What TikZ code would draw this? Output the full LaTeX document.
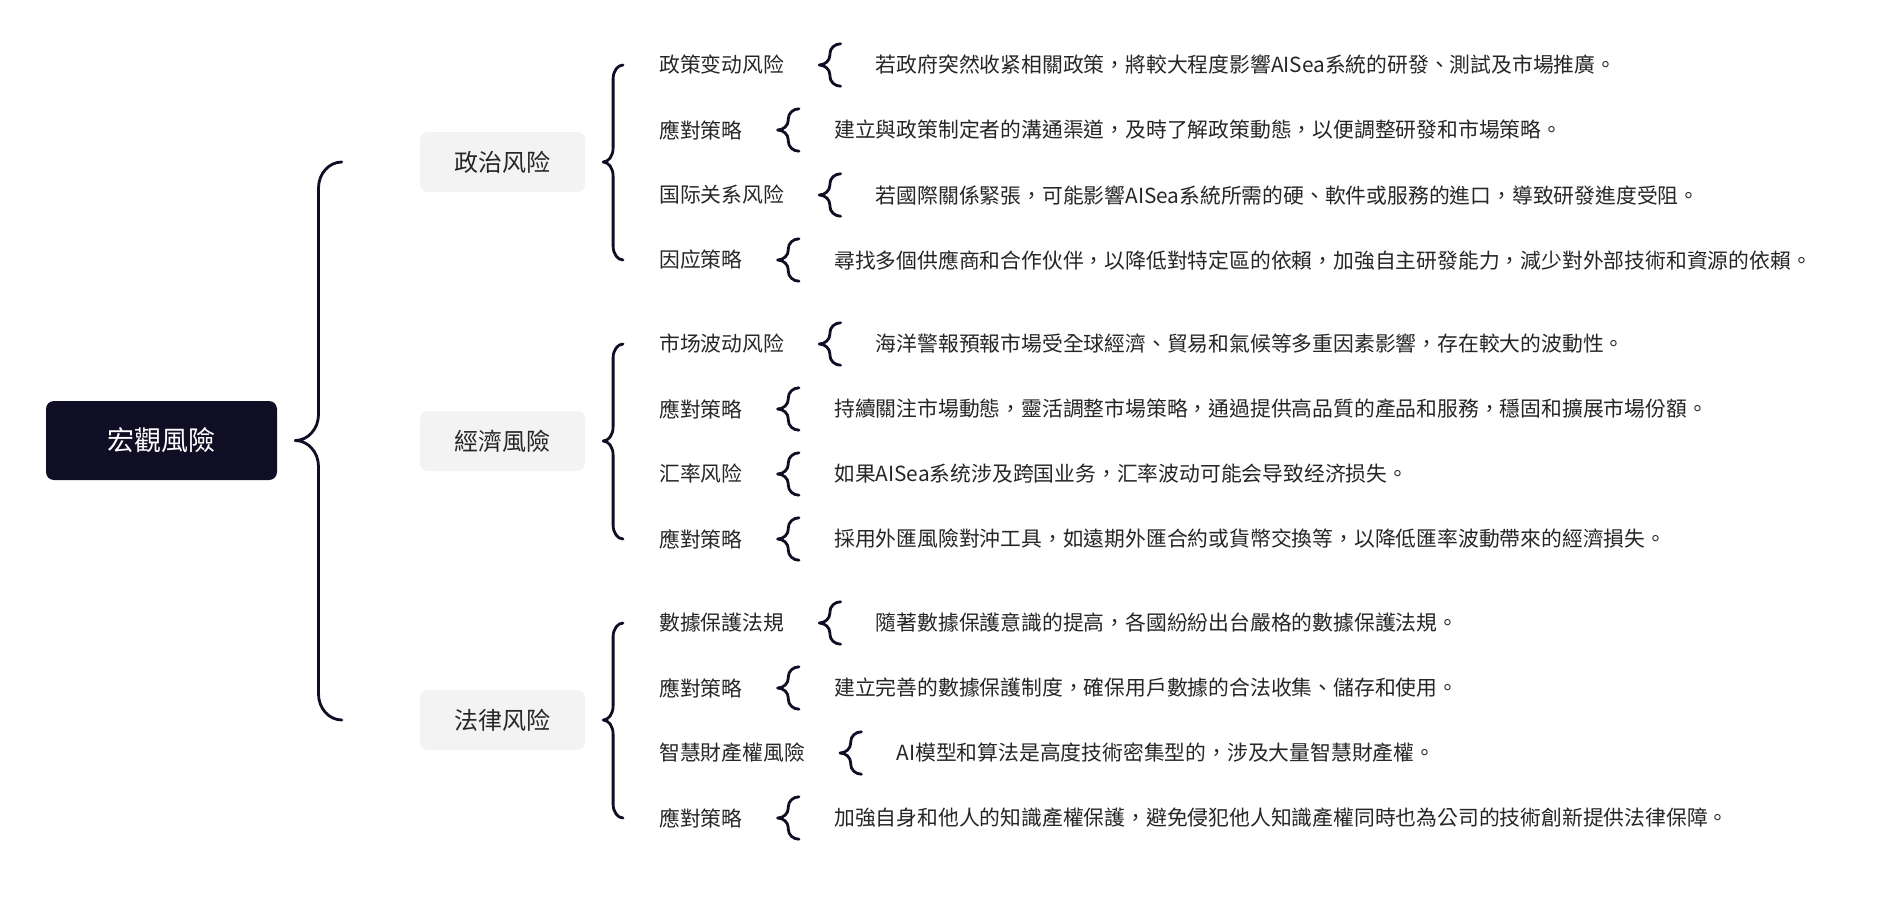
\documentclass[tikz,border=0pt]{standalone}
\usepackage{fontspec}
\setmainfont{Noto Sans CJK TC}
\usetikzlibrary{positioning, calc}
\definecolor{ink}{HTML}{100E24}
\definecolor{txtgray}{HTML}{262626}
\definecolor{boxgray}{HTML}{F3F3F3}
\tikzstyle{rootbox} = [rectangle, rounded corners=8pt, fill=ink, text=white,
                       minimum width=231pt, minimum height=79pt, font=\fontsize{27}{32}\selectfont]
\tikzstyle{midbox}  = [rectangle, rounded corners=8pt, fill=boxgray, text=txtgray,
                       minimum width=165pt, minimum height=60pt, font=\fontsize{24}{28}\selectfont]
\tikzstyle{sub}     = [inner sep=0pt, anchor=west, text=txtgray, font=\fontsize{20.8}{25}\selectfont]
\tikzstyle{detail}  = [inner sep=0pt, text=txtgray, font=\fontsize{20.8}{25}\selectfont]
\tikzstyle{slot}    = [inner sep=0pt, minimum width=21pt, minimum height=42pt]
\tikzstyle{curl}    = [draw=ink, line width=2.8pt, line cap=round, line join=round]
% curly bracket: radius, tip, top end, bottom end
\newcommand{\curly}[4]{%
  \draw[curl] let \p1=#2, \p2=#3, \p3=#4, \n1={(\x1+\x2)/2} in
    (\p2) .. controls ($(\n1,\y2)!0.45!(\p2)$) and (\n1,{\y2-0.45*#1}) .. (\n1,\y2-#1)
    -- (\n1,\y1+#1) .. controls (\n1,{\y1+0.45*#1}) and ($(\n1,\y1)!0.45!(\p1)$) .. (\p1)
    .. controls ($(\n1,\y1)!0.45!(\p1)$) and (\n1,{\y1-0.45*#1}) .. (\n1,\y1-#1)
    -- (\n1,\y3+#1) .. controls (\n1,{\y3+0.45*#1}) and ($(\n1,\y3)!0.45!(\p3)$) .. (\p3);}

\begin{document}
\begin{tikzpicture}[x=1pt, y=-1pt]
  \useasboundingbox[fill=white] (0,0) rectangle (1883,897);

  \node[rootbox] (root) at (161.5,440.5) {宏觀風險};
  \node[midbox]  (pol)  at (502.5,162)   {政治风险};
  \node[midbox]  (eco)  at (502.5,441)   {經濟風險};
  \node[midbox]  (law)  at (502.5,720)   {法律风险};

  \curly{26pt}{($(root.east)+(18,0)$)}{($(pol.west)+(-78,0)$)}{($(law.west)+(-78,0)$)}

  % rows: label, bracket, detail text
  \foreach \id/\yy/\lab/\txt in {
      p1/65/{政策变动风险}/{若政府突然收紧相關政策，將較大程度影響AISea系統的研發、測試及市場推廣。},
      p2/130/{應對策略}/{建立與政策制定者的溝通渠道，及時了解政策動態，以便調整研發和市場策略。},
      p3/195/{国际关系风险}/{若國際關係緊張，可能影響AISea系統所需的硬、軟件或服務的進口，導致研發進度受阻。},
      p4/260/{因应策略}/{尋找多個供應商和合作伙伴，以降低對特定區的依賴，加強自主研發能力，減少對外部技術和資源的依賴。},
      e1/344/{市场波动风险}/{海洋警報預報市場受全球經濟、貿易和氣候等多重因素影響，存在較大的波動性。},
      e2/409/{應對策略}/{持續關注市場動態，靈活調整市場策略，通過提供高品質的產品和服務，穩固和擴展市場份額。},
      e3/474/{汇率风险}/{如果AISea系统涉及跨国业务，汇率波动可能会导致经济损失。},
      e4/539/{應對策略}/{採用外匯風險對沖工具，如遠期外匯合約或貨幣交換等，以降低匯率波動帶來的經濟損失。},
      l1/623/{數據保護法規}/{隨著數據保護意識的提高，各國紛紛出台嚴格的數據保護法規。},
      l2/688/{應對策略}/{建立完善的數據保護制度，確保用戶數據的合法收集、儲存和使用。},
      l3/753/{智慧財產權風險}/{AI模型和算法是高度技術密集型的，涉及大量智慧財產權。},
      l4/818/{應對策略}/{加強自身和他人的知識產權保護，避免侵犯他人知識產權同時也為公司的技術創新提供法律保障。}} {
    \node[sub] (\id) at (659,\yy) {\lab};
    \node[slot, right=35pt of \id] (\id-s) {};
    \curly{10pt}{(\id-s.west)}{(\id-s.north east)}{(\id-s.south east)}
    \node[detail, right=35pt of \id-s] (\id-t) {\txt};
  }

  \curly{14pt}{($(pol.east)+(18,0)$)}{($(p1.west)+(-36,0)$)}{($(p4.west)+(-36,0)$)}
  \curly{14pt}{($(eco.east)+(18,0)$)}{($(e1.west)+(-36,0)$)}{($(e4.west)+(-36,0)$)}
  \curly{14pt}{($(law.east)+(18,0)$)}{($(l1.west)+(-36,0)$)}{($(l4.west)+(-36,0)$)}
\end{tikzpicture}
\end{document}
